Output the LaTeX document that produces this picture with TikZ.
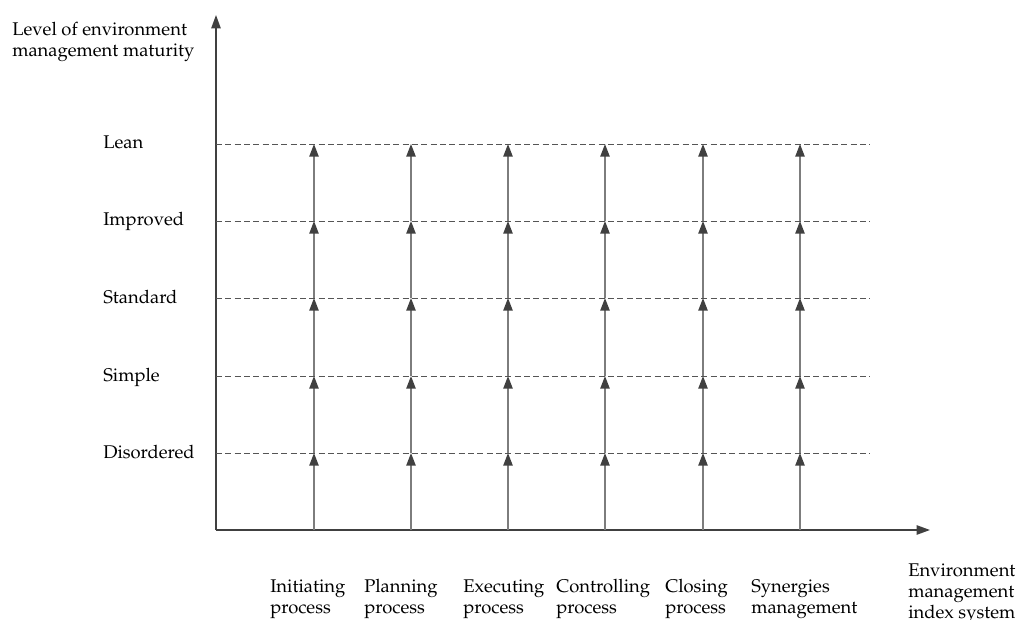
\documentclass[tikz,border=0pt]{standalone}
\usepackage[T1]{fontenc}
\renewcommand{\rmdefault}{ppl}
\usetikzlibrary{arrows.meta}
\definecolor{axisgray}{RGB}{64,64,64}
\definecolor{risegray}{RGB}{125,125,125}
\definecolor{dashgray}{RGB}{85,85,85}
\tikzset{
  axis/.style ={draw=axisgray, line width=1.1pt, -{Triangle[length=10pt, width=7pt]}},
  level/.style={draw=dashgray, line width=0.7pt, dash pattern=on 4.5pt off 2.5pt},
  rise/.style ={draw=risegray, line width=1.1pt, -{Triangle[length=9.5pt, width=7pt, color=axisgray]}},
  lbl/.style  ={anchor=base west, inner sep=0pt, align=left, font=\fontsize{13.8}{15.75}\selectfont}
}

\begin{document}
\begin{tikzpicture}[x=0.75pt, y=-0.75pt]
  \useasboundingbox (0,0) rectangle (1017,620);
  % axes
  \coordinate (O)    at (216,530);
  \coordinate (ytop) at (216,15);
  \coordinate (xend) at (930,530);
  \draw[axis] (O) -- (ytop);
  \draw[axis] (O) -- (xend);
  % multi-line labels sit on the baseline of their last line
  \node[lbl] (ylab) at (12,57)  {Level of environment\\management maturity};
  \node[lbl] (xlab) at (908,618) {Environment\\management\\index system};
  % maturity levels
  \foreach \n/\y/\txt in {1/453/Disordered, 2/376/Simple, 3/298/Standard, 4/221/Improved, 5/144/Lean}{
    \coordinate (L\n) at (216,\y);
    \coordinate (R\n) at (870,\y);
    \node[lbl] (lv\n) at (103,\y+5) {\txt};
    \draw[level] (L\n) -- (R\n);
  }
  % processes
  \foreach \i/\x/\tx/\txt in {1/314/270/Initiating\\process, 2/411/364/Planning\\process,
                              3/508/463/Executing\\process, 4/605/556/Controlling\\process,
                              5/703/665/Closing\\process, 6/800/751/Synergies\\management}{
    \coordinate (p\i-0) at (\x,530);
    \foreach \y [count=\k] in {453,376,298,221,144}
      \coordinate (p\i-\k) at (\x,\y);
    \foreach \k [evaluate=\k as \j using int(\k-1)] in {1,...,5}
      \draw[rise] (p\i-\j) -- (p\i-\k);
    \node[lbl] (pr\i) at (\tx,613) {\txt};
  }
\end{tikzpicture}
\end{document}
